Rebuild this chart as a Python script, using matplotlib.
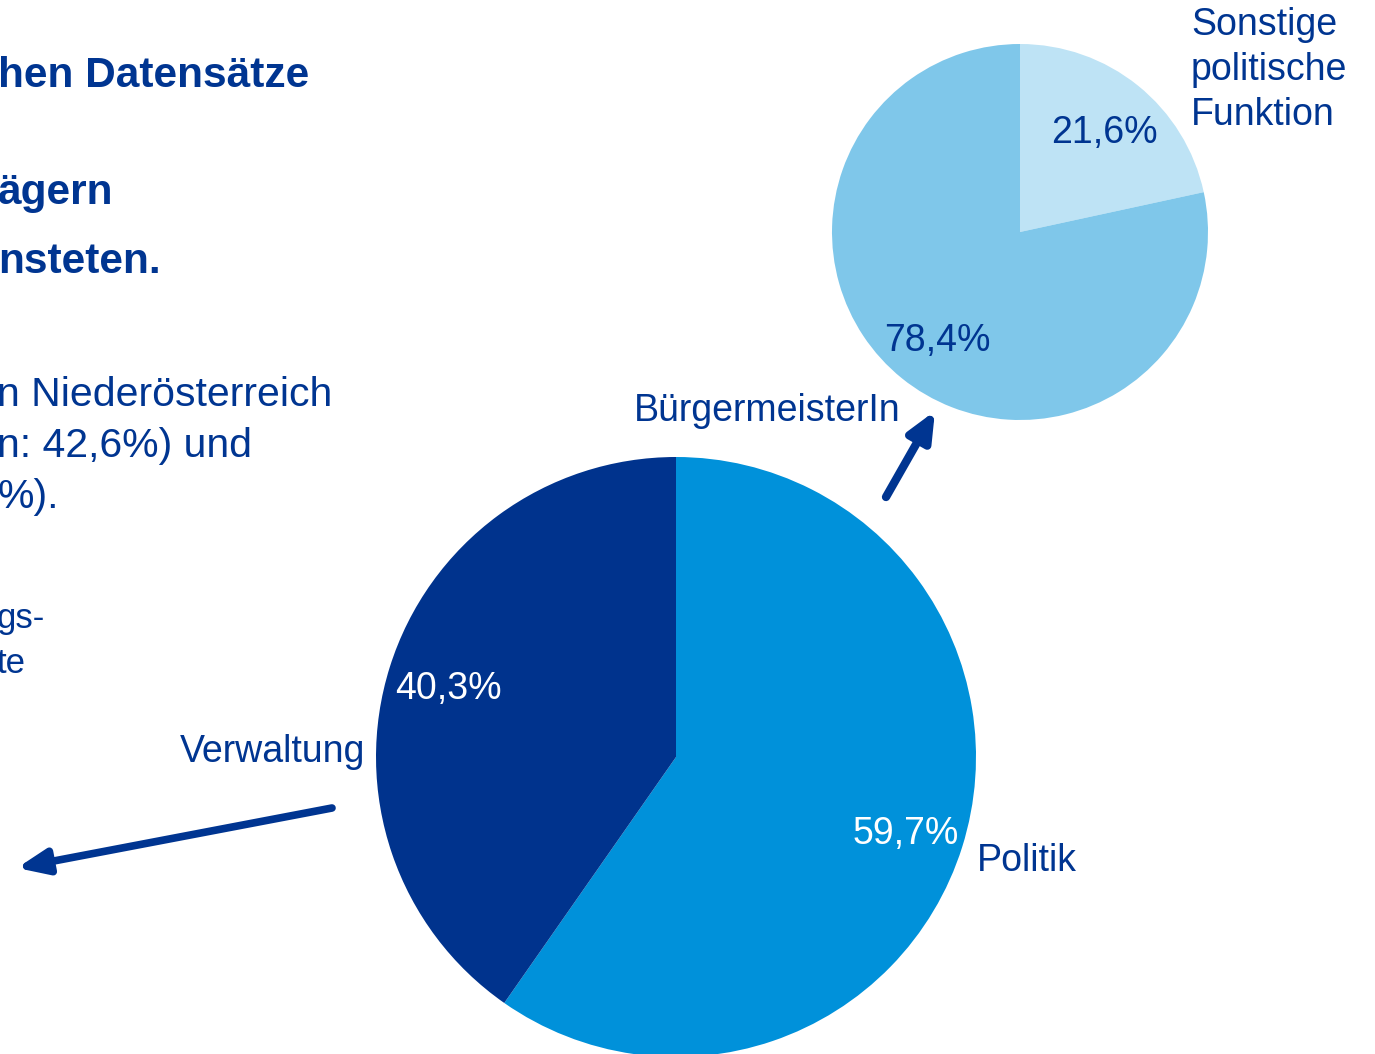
import matplotlib
matplotlib.use("Agg")
import matplotlib.pyplot as plt

W, H = 1375, 1054

# --- data ---
main_labels = ["Politik", "Verwaltung"]
main_values = [59.7, 40.3]
sub_labels = ["Sonstige politische Funktion", "BürgermeisterIn"]
sub_values = [21.6, 78.4]

title_lines = ["hen Datensätze", "ägern", "nsteten."]
body_lines = ["n Niederösterreich", "n: 42,6%) und", "%)."]
note_lines = ["gs-", "te"]

NAVY = "#003591"
MAIN_COLORS = ["#0091DA", "#00338D"]
SUB_COLORS = ["#BEE3F5", "#7FC7EA"]

plt.rcParams["font.family"] = ["Liberation Sans", "DejaVu Sans"]

fig = plt.figure(figsize=(W / 100, H / 100), dpi=100, facecolor="white")
ax = fig.add_axes([0, 0, 1, 1])


def Y(y):
    # pixel row (top-down) -> data y
    return H - y


# main pie: Politik / Verwaltung
ax.pie(main_values, colors=MAIN_COLORS, startangle=90, counterclock=False,
       center=(676, Y(757)), radius=300,
       wedgeprops=dict(linewidth=0))
# small pie: split of Politik
ax.pie(sub_values, colors=SUB_COLORS, startangle=90, counterclock=False,
       center=(1020, Y(232)), radius=188,
       wedgeprops=dict(linewidth=0))

fmt = lambda v: f"{v:.1f}".replace(".", ",") + "%"
FS = 27

# percentages
ax.text(853, Y(844), fmt(main_values[0]), color="white", fontsize=FS, va="baseline")
ax.text(395, Y(699), fmt(main_values[1]), color="white", fontsize=FS, va="baseline")
ax.text(1051, Y(143), fmt(sub_values[0]), color=NAVY, fontsize=FS, va="baseline")
ax.text(884, Y(351), fmt(sub_values[1]), color=NAVY, fontsize=FS, va="baseline")

# category labels
ax.text(977, Y(871), main_labels[0], color=NAVY, fontsize=FS, va="baseline")
ax.text(365, Y(762), main_labels[1], color=NAVY, fontsize=FS, va="baseline", ha="right")
ax.text(634, Y(421), sub_labels[1], color=NAVY, fontsize=FS, va="baseline")
for i, word in enumerate(["Sonstige", "politische", "Funktion"]):
    ax.text(1191, Y(35 + 45 * i), word, color=NAVY, fontsize=FS, va="baseline")

# arrows
ax.annotate("", xy=(935, Y(411)), xytext=(886, Y(497)),
            arrowprops=dict(arrowstyle="-|>,head_length=1.7,head_width=0.75",
                            color=NAVY, lw=6, shrinkA=0, shrinkB=0))
ax.annotate("", xy=(17, Y(868)), xytext=(332, Y(808)),
            arrowprops=dict(arrowstyle="-|>,head_length=1.8,head_width=0.75",
                            color=NAVY, lw=5.5, shrinkA=0, shrinkB=0))

# clipped slide text on the left
for txt, yb in zip(title_lines, [87, 204, 273]):
    ax.text(-2, Y(yb), txt, color=NAVY, fontsize=30.5, fontweight="bold", va="baseline")
for txt, yb in zip(body_lines, [406, 457, 508]):
    ax.text(-3, Y(yb), txt, color=NAVY, fontsize=29.5, va="baseline")
for txt, yb in zip(note_lines, [628, 673]):
    ax.text(-4, Y(yb), txt, color=NAVY, fontsize=25, va="baseline")

ax.set_xlim(0, W)
ax.set_ylim(0, H)
ax.set_aspect("equal")
ax.axis("off")

fig.savefig("out.png", dpi=100, facecolor="white")
